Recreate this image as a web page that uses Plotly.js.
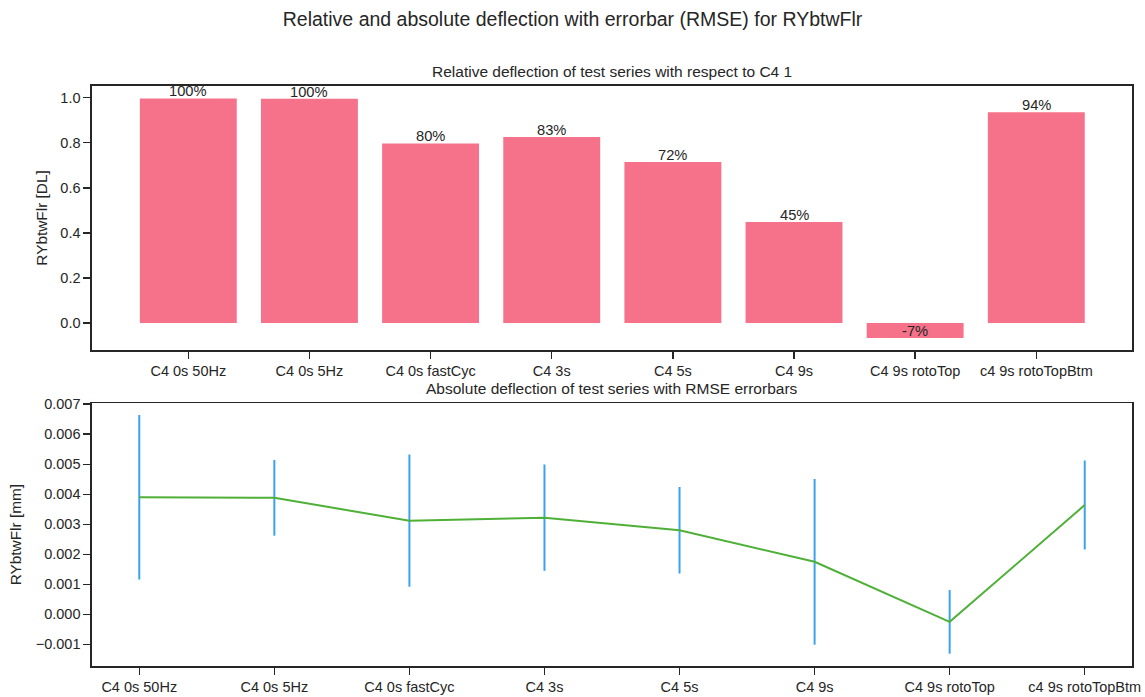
<!DOCTYPE html>
<html>
<head>
<meta charset="utf-8">
<script src="https://cdn.plot.ly/plotly-3.0.1.min.js"></script>
<style>
  html, body { margin: 0; padding: 0; background: #ffffff; }
  #chart { width: 1145px; height: 697px; }
</style>
</head>
<body>
<div id="chart"></div>
<script>
// Test series (shared by both panels)
const categories = ["C4 0s 50Hz", "C4 0s 5Hz", "C4 0s fastCyc", "C4 3s", "C4 5s", "C4 9s", "C4 9s rotoTop", "c4 9s rotoTopBtm"];

// Relative deflection with respect to C4 1 [DL]
const relativeDeflection = [0.997, 0.995, 0.797, 0.826, 0.715, 0.448, -0.066, 0.935];

// Absolute deflection [mm] and its RMSE
const absoluteDeflection = [0.00390, 0.00388, 0.00312, 0.00322, 0.00280, 0.00175, -0.00025, 0.00364];
const rmse = [0.00274, 0.00126, 0.00220, 0.00177, 0.00144, 0.00276, 0.00106, 0.00148];

const percentLabels = relativeDeflection.map(v => Math.round(v * 100) + "%");

const ink = "#262626";
const fontFamily = "Liberation Sans, Arial, sans-serif";

const traces = [
  {
    type: "bar",
    x: categories,
    y: relativeDeflection,
    xaxis: "x",
    yaxis: "y",
    marker: { color: "#f5728a", line: { width: 0 } },
    hoverinfo: "x+y"
  },
  {
    type: "scatter",
    mode: "lines",
    x: categories,
    y: absoluteDeflection,
    xaxis: "x2",
    yaxis: "y2",
    line: { color: "#4fb038", width: 2 },
    error_y: {
      type: "data",
      array: rmse,
      visible: true,
      color: "#3ba3ec",
      thickness: 2,
      width: 0
    }
  }
];

const axisCommon = {
  showline: true,
  mirror: true,
  linecolor: ink,
  linewidth: 1.6,
  ticks: "outside",
  ticklen: 7,
  tickwidth: 1.4,
  tickcolor: ink,
  showgrid: false,
  zeroline: false,
  tickfont: { family: fontFamily, size: 14.5, color: ink }
};

const annotations = categories.map((c, i) => ({
  x: c,
  y: relativeDeflection[i],
  xref: "x",
  yref: "y",
  text: percentLabels[i],
  showarrow: false,
  yanchor: "bottom",
  xanchor: "center",
  borderpad: 0,
  yshift: -2,
  font: { family: fontFamily, size: 14.7, color: ink }
}));

annotations.push({
  text: "Relative deflection of test series with respect to C4 1",
  xref: "paper", yref: "paper",
  x: 0.5, y: 1, yshift: 4,
  xanchor: "center", yanchor: "bottom",
  showarrow: false,
  font: { family: fontFamily, size: 15.5, color: ink }
});
annotations.push({
  text: "Absolute deflection of test series with RMSE errorbars",
  xref: "paper", yref: "paper",
  x: 0.5, y: 0.453, yshift: 4,
  xanchor: "center", yanchor: "bottom",
  showarrow: false,
  font: { family: fontFamily, size: 15.5, color: ink }
});

const layout = {
  width: 1145,
  height: 697,
  paper_bgcolor: "#ffffff",
  plot_bgcolor: "#ffffff",
  showlegend: false,
  bargap: 0.2,
  margin: { l: 92, r: 13, t: 86, b: 31 },
  title: {
    text: "Relative and absolute deflection with errorbar (RMSE) for RYbtwFlr",
    x: 0.5,
    xanchor: "center",
    y: 0.972,
    yanchor: "middle",
    font: { family: fontFamily, size: 19.5, color: ink }
  },
  xaxis: Object.assign({}, axisCommon, {
    domain: [0, 1],
    anchor: "y",
    range: [-0.795, 7.79],
    type: "category"
  }),
  yaxis: Object.assign({}, axisCommon, {
    domain: [0.545, 1],
    anchor: "x",
    range: [-0.119, 1.052],
    tickvals: [0, 0.2, 0.4, 0.6, 0.8, 1.0],
    tickformat: ".1f",
    title: { text: "RYbtwFlr [DL]", standoff: 9, font: { family: fontFamily, size: 15.4, color: ink } }
  }),
  xaxis2: Object.assign({}, axisCommon, {
    domain: [0, 1],
    anchor: "y2",
    range: [-0.35, 7.35],
    type: "category"
  }),
  yaxis2: Object.assign({}, axisCommon, {
    domain: [0, 0.453],
    anchor: "x2",
    range: [-0.00172, 0.00703],
    dtick: 0.001,
    tick0: 0,
    tickformat: ".3f",
    title: { text: "RYbtwFlr [mm]", standoff: 10, font: { family: fontFamily, size: 15.4, color: ink } }
  }),
  annotations: annotations
};

Plotly.newPlot("chart", traces, layout, { displayModeBar: false, staticPlot: true });
</script>
</body>
</html>
